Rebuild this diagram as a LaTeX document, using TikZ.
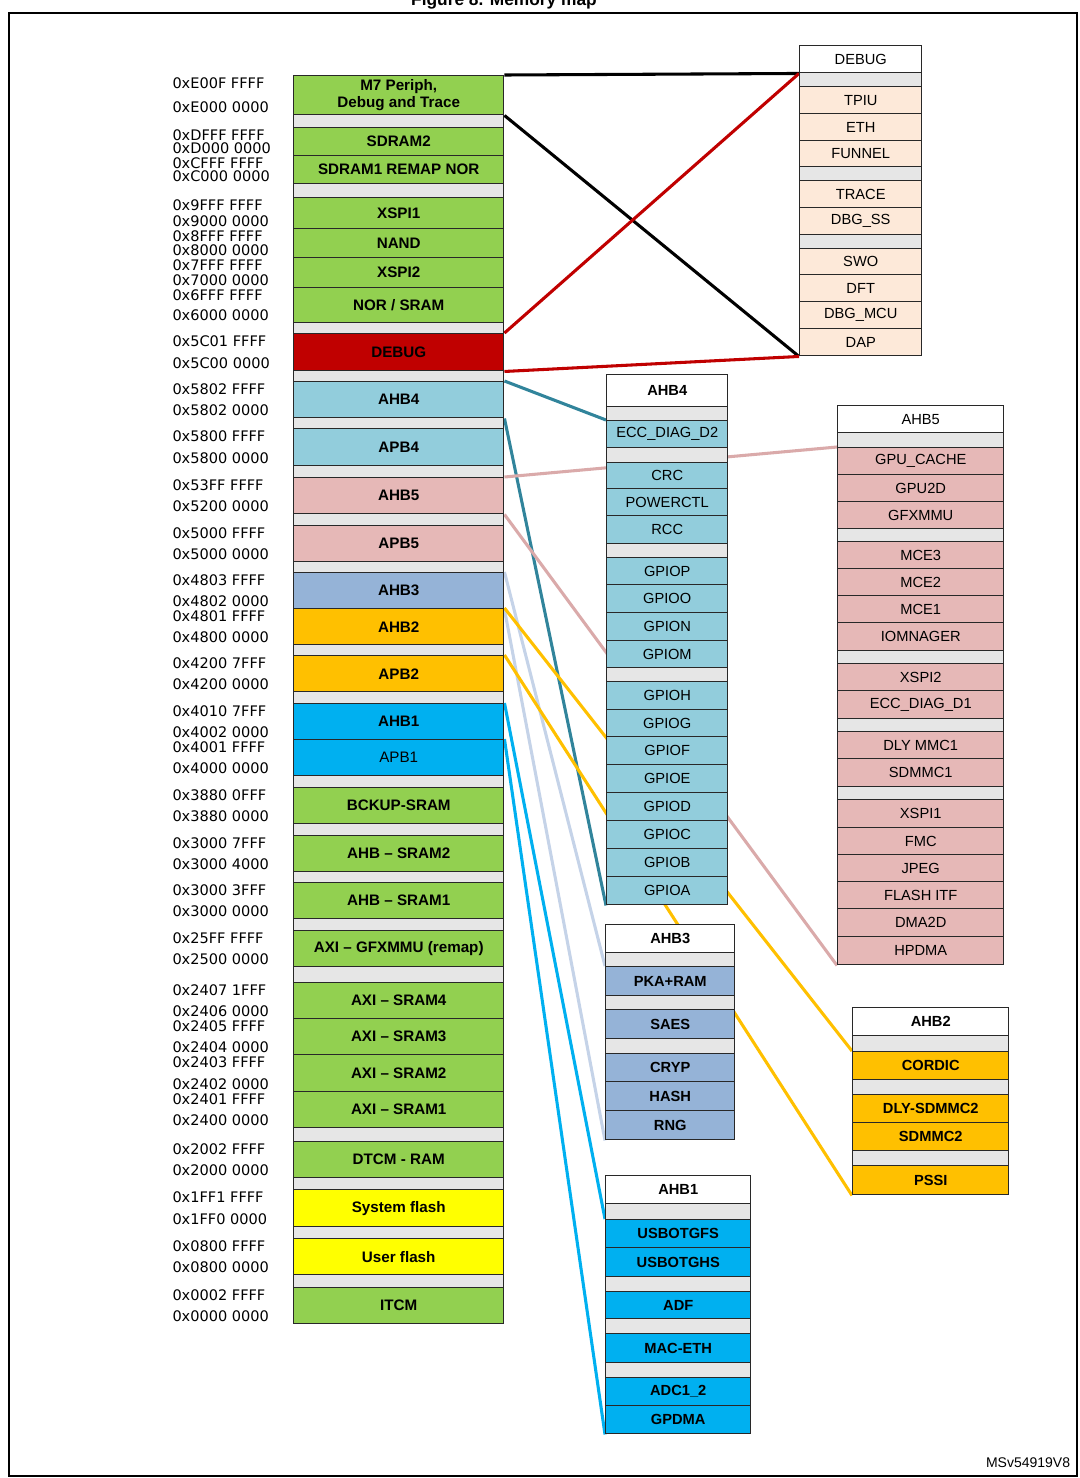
\documentclass[tikz,border=0pt]{standalone}
\usepackage{fontspec}
\setmainfont{Liberation Sans}
\newfontfamily\addrfont{DejaVu Sans}
\usetikzlibrary{backgrounds}
\definecolor{grn}{RGB}{146,208,80}
\definecolor{gapgray}{RGB}{230,230,230}
\definecolor{dbgred}{RGB}{192,0,0}
\definecolor{ltblue}{RGB}{146,205,220}
\definecolor{rose}{RGB}{230,184,183}
\definecolor{slate}{RGB}{149,179,215}
\definecolor{amber}{RGB}{255,192,0}
\definecolor{cyanblue}{RGB}{0,176,240}
\definecolor{yel}{RGB}{255,255,0}
\definecolor{peach}{RGB}{253,233,217}
\definecolor{tealline}{RGB}{49,132,155}
\definecolor{pinkline}{RGB}{218,170,170}
\definecolor{greyblue}{RGB}{197,211,232}
\definecolor{rowline}{RGB}{40,40,40}
\tikzset{every picture/.style={line width=0.75pt}}
\tikzset{
  row/.style={draw=rowline, line width=1.1pt, inner sep=0pt, anchor=north west, align=center},
  addr/.style={anchor=west, inner sep=0pt, font=\addrfont\fontsize{10.9}{12}\selectfont},
  link/.style={line width=2.3pt}
}

\begin{document}
\begin{tikzpicture}[x=0.75pt,y=0.75pt,yscale=-1,xscale=1]
\useasboundingbox (0,0) rectangle (1079,1478);

% Title and frame
\node[font=\bfseries\fontsize{13}{14}\selectfont, anchor=base] (title) at (504,5) {Figure 8. Memory map};
\draw[line width=1.6pt] (9,13) rectangle (1077,1476);
\node[anchor=base east, font=\fontsize{10.5}{12}\selectfont] (ref) at (1075,1467) {MSv54919V8};

%Main memory column
\begin{scope}[font=\bfseries\fontsize{11.4}{12.5}\selectfont]
\foreach \n/\t/\b/\c/\s/\hi/\lo in {
  m7/75/114/grn/{M7 Periph,\\Debug and Trace}/0xE00F FFFF/0xE000 0000,
  sdtwo/127/155/grn/SDRAM2/0xDFFF FFFF/0xD000 0000,
  sdone/155/183/grn/SDRAM1 REMAP NOR/0xCFFF FFFF/0xC000 0000,
  xone/197/228/grn/XSPI1/0x9FFF FFFF/0x9000 0000,
  nand/228/257/grn/NAND/0x8FFF FFFF/0x8000 0000,
  xtwo/257/287/grn/XSPI2/0x7FFF FFFF/0x7000 0000,
  nor/287/322/grn/{NOR / SRAM}/0x6FFF FFFF/0x6000 0000,
  dbg/333/370/dbgred/DEBUG/0x5C01 FFFF/0x5C00 0000,
  ahbfour/381/417/ltblue/AHB4/0x5802 FFFF/0x5802 0000,
  apbfour/428/465/ltblue/APB4/0x5800 FFFF/0x5800 0000,
  ahbfive/477/513/rose/AHB5/0x53FF FFFF/0x5200 0000,
  apbfive/525/561/rose/APB5/0x5000 FFFF/0x5000 0000,
  ahbthree/572/608/slate/AHB3/0x4803 FFFF/0x4802 0000,
  ahbtwo/608/644/amber/AHB2/0x4801 FFFF/0x4800 0000,
  apbtwo/655/691/amber/APB2/0x4200 7FFF/0x4200 0000,
  ahbone/703/739/cyanblue/AHB1/0x4010 7FFF/0x4002 0000,
  apbone/739/775/cyanblue/{\mdseries APB1}/0x4001 FFFF/0x4000 0000,
  bckup/787/823/grn/BCKUP-SRAM/0x3880 0FFF/0x3880 0000,
  ahbsramtwo/835/871/grn/AHB -- SRAM2/0x3000 7FFF/0x3000 4000,
  ahbsramone/882/918/grn/AHB -- SRAM1/0x3000 3FFF/0x3000 0000,
  gfx/930/966/grn/AXI -- GFXMMU (remap)/0x25FF FFFF/0x2500 0000,
  axifour/982/1018/grn/AXI -- SRAM4/0x2407 1FFF/0x2406 0000,
  axithree/1018/1054/grn/AXI -- SRAM3/0x2405 FFFF/0x2404 0000,
  axitwo/1054/1091/grn/AXI -- SRAM2/0x2403 FFFF/0x2402 0000,
  axione/1091/1127/grn/AXI -- SRAM1/0x2401 FFFF/0x2400 0000,
  dtcm/1141/1177/grn/DTCM - RAM/0x2002 FFFF/0x2000 0000,
  sysfl/1189/1226/yel/System flash/0x1FF1 FFFF/0x1FF0 0000,
  usrfl/1238/1274/yel/User flash/0x0800 FFFF/0x0800 0000,
  itcm/1287/1323/grn/ITCM/0x0002 FFFF/0x0000 0000}
{
  \node[row, fill=\c, minimum width=157.5pt, minimum height={(\b-\t)*0.75pt}] (\n) at (293,\t) {\s};
  \node[addr] (\n-hi) at (172,\t+8) {\hi};
  \node[addr] (\n-lo) at (172,\b-7) {\lo};
}
% gaps
\foreach \t/\b [count=\i] in {114/127,183/197,322/333,370/381,417/428,465/477,513/525,561/572,
  644/655,691/703,775/787,823/835,871/882,918/930,966/982,1127/1141,1177/1189,1226/1238,1274/1287}
  \node[row, fill=gapgray, minimum width=157.5pt, minimum height={(\b-\t)*0.75pt}] (mgap\i) at (293,\t) {};
\end{scope}

%DEBUG stack
\begin{scope}[font=\fontsize{11}{12}\selectfont]
\foreach \n/\t/\b/\c/\s in {dbgh/45/72/white/DEBUG, dg1/72/86/gapgray/, tpiu/86/113/peach/TPIU,
  eth/113/140/peach/ETH, funnel/140/166/peach/FUNNEL, dg2/166/180/gapgray/, trace/180/207/peach/TRACE,
  dbgss/207/234/peach/DBG\_SS, dg3/234/248/gapgray/, swo/248/274/peach/SWO, dft/274/301/peach/DFT,
  dbgmcu/301/328/peach/DBG\_MCU, dap/328/355/peach/DAP}
  \node[row, fill=\c, minimum width=91.5pt, minimum height={(\b-\t)*0.75pt}] (\n) at (799,\t) {\s};

%AHB4 stack
\foreach \n/\t/\b/\c/\s in {ahbfourh/374/406/white/\textbf{AHB4}, fg1/406/420/gapgray/, ecc/420/447/ltblue/ECC\_DIAG\_D2,
  fg2/447/462/gapgray/, crc/462/488/ltblue/CRC, powerctl/488/515/ltblue/POWERCTL, rcc/515/543/ltblue/RCC,
  fg3/543/557/gapgray/, gpiop/557/584/ltblue/GPIOP, gpioo/584/612/ltblue/GPIOO, gpion/612/640/ltblue/GPION,
  gpiom/640/667/ltblue/GPIOM, fg4/667/681/gapgray/, gpioh/681/709/ltblue/GPIOH, gpiog/709/736/ltblue/GPIOG,
  gpiof/736/764/ltblue/GPIOF, gpioe/764/792/ltblue/GPIOE, gpiod/792/820/ltblue/GPIOD,
  gpioc/820/848/ltblue/GPIOC, gpiob/848/876/ltblue/GPIOB, gpioa/876/904/ltblue/GPIOA}
  \node[row, fill=\c, minimum width=90.75pt, minimum height={(\b-\t)*0.75pt}] (\n) at (606,\t) {\s};

%AHB5 stack
\foreach \n/\t/\b/\c/\s in {ahbfiveh/405/432/white/AHB5, vg1/432/447/gapgray/, gpucache/447/474/rose/GPU\_CACHE,
  gputwod/474/501/rose/GPU2D, gfxmmu/501/528/rose/GFXMMU, vg2/528/541/gapgray/, mcethree/541/568/rose/MCE3,
  mcetwo/568/595/rose/MCE2, mceone/595/622/rose/MCE1, iomngr/622/650/rose/IOMNAGER, vg3/650/663/gapgray/,
  xspitwo/663/690/rose/XSPI2, eccone/690/718/rose/ECC\_DIAG\_D1, vg4/718/731/gapgray/,
  dlymmc/731/758/rose/DLY MMC1, sdmmcone/758/786/rose/SDMMC1, vg5/786/799/gapgray/,
  xspione/799/827/rose/XSPI1, fmc/827/854/rose/FMC, jpeg/854/881/rose/JPEG, flashitf/881/908/rose/FLASH ITF,
  dmatwod/908/936/rose/DMA2D, hpdma/936/964/rose/HPDMA}
  \node[row, fill=\c, minimum width=124.5pt, minimum height={(\b-\t)*0.75pt}] (\n) at (837,\t) {\s};
\end{scope}

\begin{scope}[font=\bfseries\fontsize{11}{12}\selectfont]
%AHB3 stack
\foreach \n/\t/\b/\c/\s in {ahbthreeh/924/952/white/AHB3, tg1/952/966/gapgray/, pka/966/995/slate/PKA+RAM,
  tg2/995/1009/gapgray/, saes/1009/1038/slate/SAES, tg3/1038/1053/gapgray/, cryp/1053/1081/slate/CRYP,
  hash/1081/1110/slate/HASH, rng/1110/1139/slate/RNG}
  \node[row, fill=\c, minimum width=96.75pt, minimum height={(\b-\t)*0.75pt}] (\n) at (605,\t) {\s};

%AHB2 stack
\foreach \n/\t/\b/\c/\s in {ahbtwoh/1007/1035/white/AHB2, wg1/1035/1051/gapgray/, cordic/1051/1079/amber/CORDIC,
  wg2/1079/1094/gapgray/, dlysd/1094/1122/amber/DLY-SDMMC2, sdmmctwo/1122/1150/amber/SDMMC2,
  wg3/1150/1165/gapgray/, pssi/1165/1194/amber/PSSI}
  \node[row, fill=\c, minimum width=117pt, minimum height={(\b-\t)*0.75pt}] (\n) at (852,\t) {\s};

%AHB1 stack
\foreach \n/\t/\b/\c/\s in {ahboneh/1175/1203/white/AHB1, og1/1203/1219/gapgray/, usbfs/1219/1247/cyanblue/USBOTGFS,
  usbhs/1247/1276/cyanblue/USBOTGHS, og2/1276/1291/gapgray/, adf/1291/1318/cyanblue/ADF,
  og3/1318/1333/gapgray/, maceth/1333/1362/cyanblue/MAC-ETH, og4/1362/1377/gapgray/,
  adc/1377/1405/cyanblue/ADC1\_2, gpdma/1405/1433/cyanblue/GPDMA}
  \node[row, fill=\c, minimum width=108.75pt, minimum height={(\b-\t)*0.75pt}] (\n) at (605,\t) {\s};
\end{scope}

%Connectors behind the boxes
\begin{pgfonlayer}{background}
\draw[link, black] (m7.north east) -- (dbgh.south west);
\draw[link, black] (m7.south east) -- (dap.south west);
\draw[link, dbgred] (dbg.north east) -- (dbgh.south west);
\draw[link, dbgred] (dbg.south east) -- (dap.south west);
\draw[link, tealline] (ahbfour.north east) -- (ecc.north west);
\draw[link, tealline] (ahbfour.south east) -- (gpioa.south west);
\draw[link, pinkline] (ahbfive.north east) -- (gpucache.north west);
\draw[link, pinkline] (ahbfive.south east) -- (hpdma.south west);
\draw[link, greyblue] (ahbthree.north east) -- (pka.north west);
\draw[link, greyblue] (ahbthree.south east) -- (rng.south west);
\draw[link, amber] (ahbtwo.north east) -- (cordic.north west);
\draw[link, amber] (apbtwo.north east) -- (pssi.south west);
\draw[link, cyanblue] (ahbone.north east) -- (usbfs.north west);
\draw[link, cyanblue] (apbone.north east) -- (gpdma.south west);
\end{pgfonlayer}
\end{tikzpicture}
\end{document}
